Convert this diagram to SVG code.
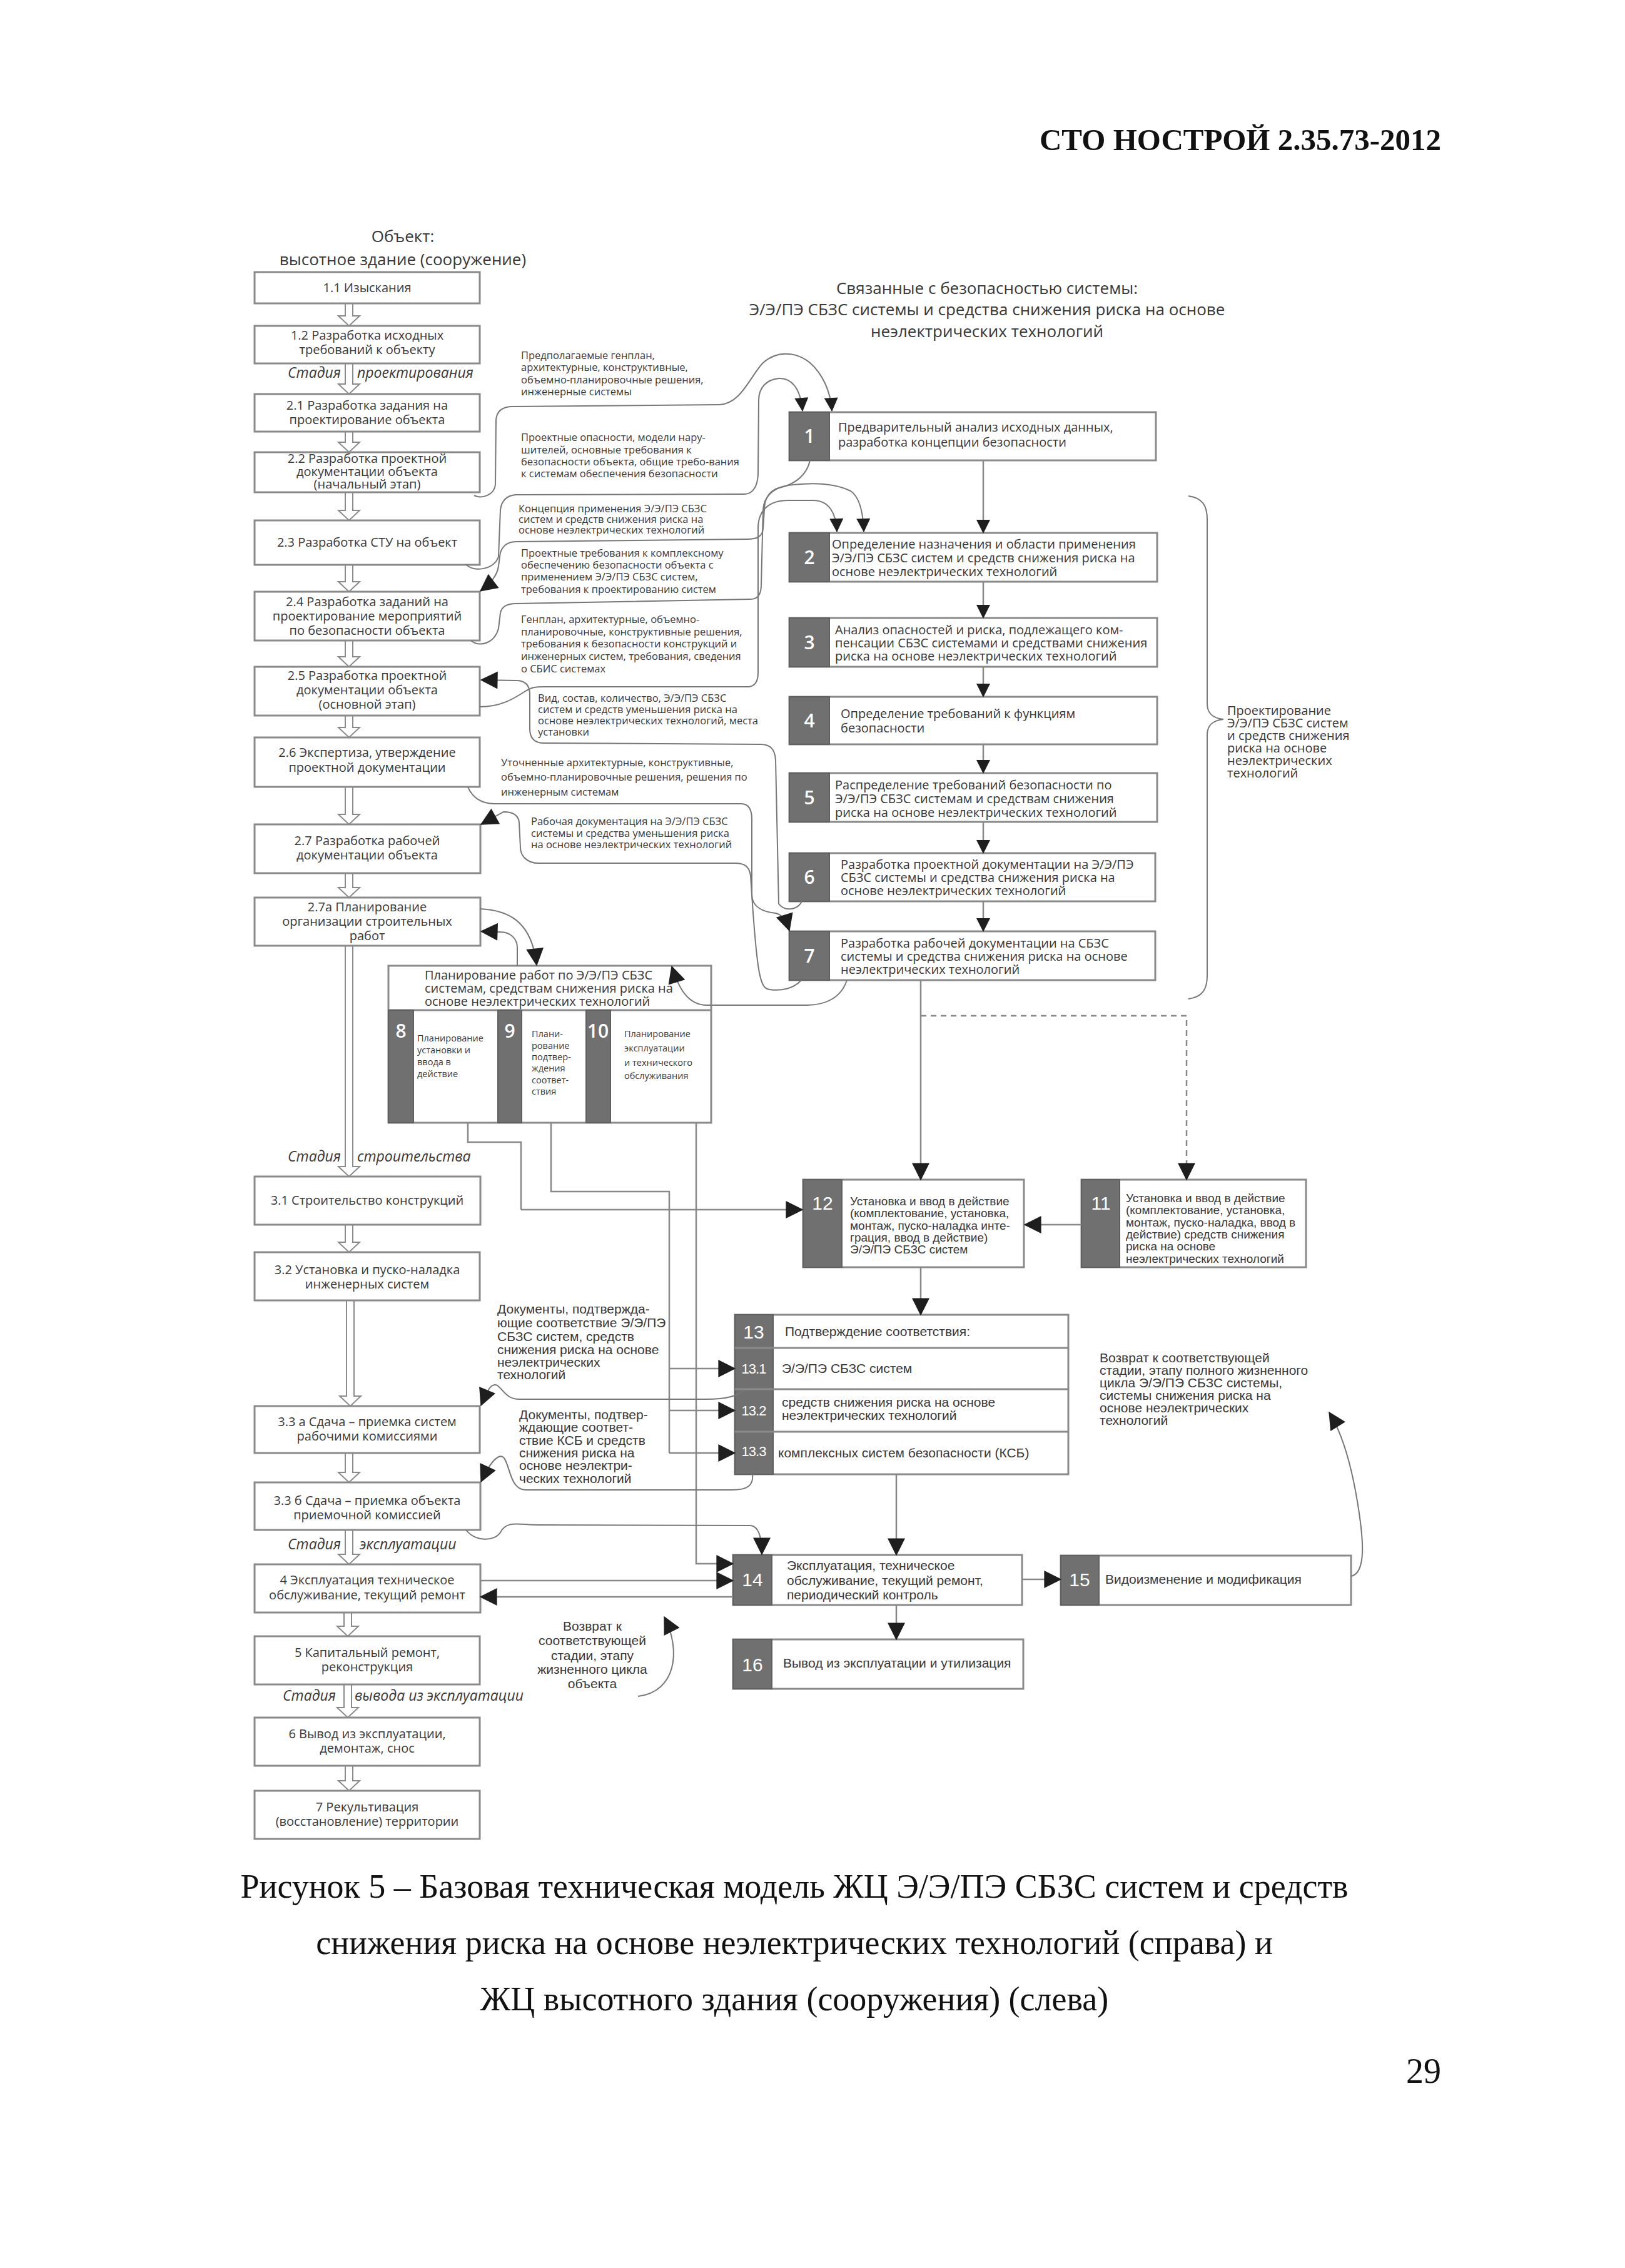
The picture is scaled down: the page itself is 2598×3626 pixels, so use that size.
<svg xmlns="http://www.w3.org/2000/svg" width="2598" height="3626" viewBox="0 0 2598 3626">
<defs>
<style>
.bx{fill:#fff;stroke:#8a8a8a;stroke-width:3}
.dk{fill:#707070;stroke:#606060;stroke-width:2}
.ba{fill:#fff;stroke:#8a8a8a;stroke-width:2}
.ln{fill:none;stroke:#888;stroke-width:2.5}
.lnd{fill:none;stroke:#888;stroke-width:2.5;stroke-dasharray:9 7}
.cv{fill:none;stroke:#777;stroke-width:2}
.lt{font-family:"Open Sans",sans-serif;font-size:20px;fill:#383838;text-anchor:middle}
.hd{font-family:"Open Sans",sans-serif;font-size:26px;fill:#383838;text-anchor:middle}
.st{font-family:"Open Sans",sans-serif;font-size:23px;font-style:italic;fill:#383838}
.rt{font-family:"Open Sans",sans-serif;font-size:20px;fill:#383838}
.num{font-family:"Open Sans",sans-serif;font-size:30px;font-weight:600;fill:#fff;text-anchor:middle}
.an{font-family:"Open Sans",sans-serif;font-size:16.5px;fill:#383838}
.pt{font-family:"Open Sans",sans-serif;font-size:14.5px;fill:#383838}
.cb{font-family:"Liberation Sans",sans-serif;font-size:19px;fill:#383838}
.cb2{font-family:"Liberation Sans",sans-serif;font-size:21px;fill:#383838}
.cn{font-family:"Liberation Sans",sans-serif;font-size:30px;fill:#fff;text-anchor:middle}
.cns{font-family:"Liberation Sans",sans-serif;font-size:22px;fill:#fff;text-anchor:middle;letter-spacing:-1px}
.tm{font-family:"Liberation Serif","Times New Roman",serif;fill:#111}
</style>
<marker id="ah" viewBox="0 0 10 10" refX="9.5" refY="5" markerWidth="26" markerHeight="22" markerUnits="userSpaceOnUse" orient="auto"><path d="M0,0 L10,5 L0,10 z" fill="#1e1e1e"/></marker>
<marker id="ahL" viewBox="0 0 10 10" refX="9.5" refY="5" markerWidth="34" markerHeight="28" markerUnits="userSpaceOnUse" orient="auto"><path d="M0,0 L10,5 L0,10 z" fill="#1e1e1e"/></marker>
</defs>
<rect width="2598" height="3626" fill="#fff"/>

<!-- page header and caption -->
<text class="tm" x="2304" y="240" font-size="49" font-weight="bold" text-anchor="end">СТО НОСТРОЙ 2.35.73-2012</text>
<g class="tm" font-size="54" text-anchor="middle">
<text x="1270" y="3034">Рисунок 5 – Базовая техническая модель ЖЦ Э/Э/ПЭ СБЗС систем и средств</text>
<text x="1270" y="3124">снижения риска на основе неэлектрических технологий (справа) и</text>
<text x="1270" y="3214">ЖЦ высотного здания (сооружения) (слева)</text>
</g>
<text class="tm" x="2304" y="3330" font-size="56" text-anchor="end">29</text>

<!-- titles -->
<text class="hd" x="644" y="387">Объект:</text>
<text class="hd" x="644" y="424">высотное здание (сооружение)</text>
<text class="hd" x="1578" y="470">Связанные с безопасностью системы:</text>
<text class="hd" x="1578" y="504">Э/Э/ПЭ СБЗС системы и средства снижения риска на основе</text>
<text class="hd" x="1578" y="539">неэлектрических технологий</text>

<!-- hollow block arrows of left column -->
<g id="block-arrows" class="ba">
<polygon points="552,485 564,485 564,505 575,505 558,521 541,505 552,505"/>
<polygon points="552,581 564,581 564,614 575,614 558,630 541,614 552,614"/>
<polygon points="552,690 564,690 564,707 575,707 558,723 541,707 552,707"/>
<polygon points="552,787 564,787 564,816 575,816 558,832 541,816 552,816"/>
<polygon points="552,903 564,903 564,930 575,930 558,946 541,930 552,930"/>
<polygon points="552,1024 564,1024 564,1050 575,1050 558,1066 541,1050 552,1050"/>
<polygon points="552,1144 564,1144 564,1163 575,1163 558,1179 541,1163 552,1163"/>
<polygon points="552,1258 564,1258 564,1302 575,1302 558,1318 541,1302 552,1302"/>
<polygon points="552,1396 564,1396 564,1419 575,1419 558,1435 541,1419 552,1419"/>
<polygon points="552,1512 564,1512 564,1865 575,1865 558,1881 541,1865 552,1865"/>
<polygon points="552,1958 564,1958 564,1986 575,1986 558,2002 541,1986 552,1986"/>
<polygon points="554,2079 566,2079 566,2232 577,2232 560,2248 543,2232 554,2232"/>
<polygon points="552,2323 564,2323 564,2354 575,2354 558,2370 541,2354 552,2354"/>
<polygon points="552,2446 564,2446 564,2485 575,2485 558,2501 541,2485 552,2485"/>
<polygon points="550,2578 562,2578 562,2600 573,2600 556,2616 539,2600 550,2600"/>
<polygon points="550,2693 562,2693 562,2730 573,2730 556,2746 539,2730 550,2730"/>
<polygon points="552,2823 564,2823 564,2847 575,2847 558,2863 541,2847 552,2847"/>
</g>

<!-- stage labels -->
<g id="stages" class="st">
<text x="545" y="604" text-anchor="end">Стадия</text><text x="571" y="604">проектирования</text>
<text x="545" y="1857" text-anchor="end">Стадия</text><text x="571" y="1857">строительства</text>
<text x="545" y="2477" text-anchor="end">Стадия</text><text x="575" y="2477">эксплуатации</text>
<text x="537" y="2719" text-anchor="end">Стадия</text><text x="567" y="2719">вывода из эксплуатации</text>
</g>

<!-- left column nodes -->
<g id="n1-1"><rect class="bx" x="407" y="435" width="360" height="50"/><text class="lt" x="587" y="467">1.1 Изыскания</text></g>
<g id="n1-2"><rect class="bx" x="407" y="521" width="360" height="60"/><text class="lt" x="587" y="543">1.2 Разработка исходных</text><text class="lt" x="587" y="566">требований к объекту</text></g>
<g id="n2-1"><rect class="bx" x="407" y="630" width="360" height="60"/><text class="lt" x="587" y="655">2.1 Разработка задания на</text><text class="lt" x="587" y="678">проектирование объекта</text></g>
<g id="n2-2"><rect class="bx" x="407" y="723" width="360" height="64"/><text class="lt" x="587" y="740" font-size="18">2.2 Разработка проектной</text><text class="lt" x="587" y="760.5" font-size="18">документации объекта</text><text class="lt" x="587" y="781" font-size="18">(начальный этап)</text></g>
<g id="n2-3"><rect class="bx" x="407" y="832" width="360" height="71"/><text class="lt" x="587" y="874">2.3 Разработка СТУ на объект</text></g>
<g id="n2-4"><rect class="bx" x="407" y="946" width="360" height="78"/><text class="lt" x="587" y="969">2.4 Разработка заданий на</text><text class="lt" x="587" y="992">проектирование мероприятий</text><text class="lt" x="587" y="1015">по безопасности объекта</text></g>
<g id="n2-5"><rect class="bx" x="407" y="1066" width="360" height="78"/><text class="lt" x="587" y="1087">2.5 Разработка проектной</text><text class="lt" x="587" y="1110">документации объекта</text><text class="lt" x="587" y="1133">(основной этап)</text></g>
<g id="n2-6"><rect class="bx" x="407" y="1179" width="360" height="79"/><text class="lt" x="587" y="1210">2.6 Экспертиза, утверждение</text><text class="lt" x="587" y="1234">проектной документации</text></g>
<g id="n2-7"><rect class="bx" x="407" y="1318" width="361" height="78"/><text class="lt" x="587" y="1351">2.7 Разработка рабочей</text><text class="lt" x="587" y="1374">документации объекта</text></g>
<g id="n2-7a"><rect class="bx" x="407" y="1435" width="361" height="77"/><text class="lt" x="587" y="1457">2.7а Планирование</text><text class="lt" x="587" y="1480">организации строительных</text><text class="lt" x="587" y="1503">работ</text></g>
<g id="n3-1"><rect class="bx" x="407" y="1881" width="361" height="77"/><text class="lt" x="587" y="1926">3.1 Строительство конструкций</text></g>
<g id="n3-2"><rect class="bx" x="407" y="2002" width="360" height="77"/><text class="lt" x="587" y="2037">3.2 Установка и пуско-наладка</text><text class="lt" x="587" y="2060">инженерных систем</text></g>
<g id="n3-3a"><rect class="bx" x="407" y="2248" width="360" height="75"/><text class="lt" x="587" y="2280">3.3 а Сдача – приемка  систем</text><text class="lt" x="587" y="2303">рабочими комиссиями</text></g>
<g id="n3-3b"><rect class="bx" x="407" y="2370" width="361" height="76"/><text class="lt" x="587" y="2406">3.3 б Сдача – приемка объекта</text><text class="lt" x="587" y="2429">приемочной комиссией</text></g>
<g id="n4"><rect class="bx" x="407" y="2501" width="361" height="77"/><text class="lt" x="587" y="2533">4 Эксплуатация техническое</text><text class="lt" x="587" y="2557">обслуживание, текущий ремонт</text></g>
<g id="n5"><rect class="bx" x="407" y="2616" width="360" height="77"/><text class="lt" x="587" y="2649">5 Капитальный ремонт,</text><text class="lt" x="587" y="2672">реконструкция</text></g>
<g id="n6"><rect class="bx" x="407" y="2746" width="360" height="77"/><text class="lt" x="587" y="2779">6 Вывод из эксплуатации,</text><text class="lt" x="587" y="2802">демонтаж, снос</text></g>
<g id="n7"><rect class="bx" x="407" y="2863" width="360" height="77"/><text class="lt" x="587" y="2896">7 Рекультивация</text><text class="lt" x="587" y="2919">(восстановление) территории</text></g>

<!-- right column nodes -->
<g id="r1"><rect class="bx" x="1262" y="659" width="586" height="77"/><rect class="dk" x="1262" y="659" width="64" height="77"/><text class="num" x="1294" y="708">1</text><text class="rt" x="1340" y="690">Предварительный анализ исходных данных,</text><text class="rt" x="1340" y="714">разработка концепции безопасности</text></g>
<g id="r2"><rect class="bx" x="1262" y="852" width="588" height="78"/><rect class="dk" x="1262" y="852" width="64" height="78"/><text class="num" x="1294" y="902">2</text><text class="rt" x="1330" y="877">Определение назначения и области применения</text><text class="rt" x="1330" y="899">Э/Э/ПЭ СБЗС систем и средств снижения риска на</text><text class="rt" x="1330" y="921">основе неэлектрических технологий</text></g>
<g id="r3"><rect class="bx" x="1262" y="988" width="588" height="78"/><rect class="dk" x="1262" y="988" width="64" height="78"/><text class="num" x="1294" y="1038">3</text><text class="rt" x="1335" y="1014">Анализ опасностей и риска, подлежащего ком-</text><text class="rt" x="1335" y="1035">пенсации СБЗС системами и средствами снижения</text><text class="rt" x="1335" y="1056">риска на основе неэлектрических технологий</text></g>
<g id="r4"><rect class="bx" x="1262" y="1114" width="588" height="76"/><rect class="dk" x="1262" y="1114" width="64" height="76"/><text class="num" x="1294" y="1163">4</text><text class="rt" x="1344" y="1148">Определение требований к функциям</text><text class="rt" x="1344" y="1171">безопасности</text></g>
<g id="r5"><rect class="bx" x="1262" y="1236" width="588" height="78"/><rect class="dk" x="1262" y="1236" width="64" height="78"/><text class="num" x="1294" y="1286">5</text><text class="rt" x="1335" y="1262">Распределение требований безопасности по</text><text class="rt" x="1335" y="1284">Э/Э/ПЭ СБЗС  системам и  средствам снижения</text><text class="rt" x="1335" y="1306">риска на основе неэлектрических технологий</text></g>
<g id="r6"><rect class="bx" x="1262" y="1364" width="585" height="77"/><rect class="dk" x="1262" y="1364" width="64" height="77"/><text class="num" x="1294" y="1413">6</text><text class="rt" x="1344" y="1389">Разработка проектной документации на Э/Э/ПЭ</text><text class="rt" x="1344" y="1410">СБЗС системы и средства снижения риска на</text><text class="rt" x="1344" y="1431">основе неэлектрических технологий</text></g>
<g id="r7"><rect class="bx" x="1262" y="1489" width="585" height="78"/><rect class="dk" x="1262" y="1489" width="64" height="78"/><text class="num" x="1294" y="1539">7</text><text class="rt" x="1344" y="1515">Разработка рабочей документации на СБЗС</text><text class="rt" x="1344" y="1536">системы и средства снижения риска на основе</text><text class="rt" x="1344" y="1557">неэлектрических технологий</text></g>

<!-- bracket -->
<g id="bracket">
<path class="cv" d="M1900,793 C1922,796 1930,808 1930,830 L1930,1125 C1930,1140 1938,1148 1956,1150 C1938,1152 1930,1160 1930,1175 L1930,1560 C1930,1582 1922,1594 1900,1597"/>
<g class="rt" font-size="19px"><text x="1962" y="1143">Проектирование</text><text x="1962" y="1163">Э/Э/ПЭ СБЗС систем</text><text x="1962" y="1183">и средств снижения</text><text x="1962" y="1203">риска на основе</text><text x="1962" y="1223">неэлектрических</text><text x="1962" y="1243">технологий</text></g>
</g>

<!-- planning block 8-10 -->
<g id="plan">
<rect class="bx" x="621" y="1544" width="516" height="251"/>
<line x1="621" y1="1615" x2="1137" y2="1615" stroke="#8a8a8a" stroke-width="3"/>
<text class="rt" x="679" y="1566" font-size="19.5px">Планирование работ по Э/Э/ПЭ СБЗС</text>
<text class="rt" x="679" y="1587" font-size="19.5px">системам, средствам снижения риска на</text>
<text class="rt" x="679" y="1608" font-size="19.5px">основе неэлектрических технологий</text>
<g id="n8"><rect class="dk" x="621" y="1615" width="40" height="180"/><text class="num" x="641" y="1659" font-size="27px">8</text><text class="pt" x="667" y="1665">Планирование</text><text class="pt" x="667" y="1684">установки и</text><text class="pt" x="667" y="1703">ввода в</text><text class="pt" x="667" y="1722">действие</text></g>
<line x1="796" y1="1615" x2="796" y2="1795" stroke="#8a8a8a" stroke-width="2"/>
<g id="n9"><rect class="dk" x="796" y="1615" width="38" height="180"/><text class="num" x="815" y="1659" font-size="27px">9</text><text class="pt" x="850" y="1658">Плани-</text><text class="pt" x="850" y="1677">рование</text><text class="pt" x="850" y="1695">подтвер-</text><text class="pt" x="850" y="1713">ждения</text><text class="pt" x="850" y="1732">соответ-</text><text class="pt" x="850" y="1750">ствия</text></g>
<g id="n10"><rect class="dk" x="937" y="1615" width="39" height="180"/><text class="num" x="956" y="1659" font-size="27px">10</text><text class="pt" x="998" y="1658">Планирование</text><text class="pt" x="998" y="1681">эксплуатации</text><text class="pt" x="998" y="1704">и технического</text><text class="pt" x="998" y="1725">обслуживания</text></g>
</g>

<!-- lower right nodes -->
<g id="r12"><rect class="bx" x="1284" y="1886" width="353" height="140"/><rect class="dk" x="1284" y="1886" width="62" height="140"/><text class="cn" x="1315" y="1934">12</text><g class="cb"><text x="1359" y="1927">Установка и ввод в действие</text><text x="1359" y="1946">(комплектование,  установка,</text><text x="1359" y="1966">монтаж, пуско-наладка инте-</text><text x="1359" y="1985">грация, ввод в действие)</text><text x="1359" y="2004">Э/Э/ПЭ СБЗС систем</text></g></g>
<g id="r11"><rect class="bx" x="1729" y="1886" width="359" height="140"/><rect class="dk" x="1729" y="1886" width="61" height="140"/><text class="cn" x="1760" y="1934">11</text><g class="cb"><text x="1800" y="1922">Установка и ввод в действие</text><text x="1800" y="1941">(комплектование, установка,</text><text x="1800" y="1961">монтаж, пуско-наладка, ввод в</text><text x="1800" y="1980">действие) средств снижения</text><text x="1800" y="1999">риска на основе</text><text x="1800" y="2019">неэлектрических технологий</text></g></g>
<g id="r13"><rect class="bx" x="1175" y="2102" width="533" height="255"/><rect class="dk" x="1175" y="2102" width="61" height="255"/>
<line x1="1175" y1="2155" x2="1708" y2="2155" stroke="#8a8a8a" stroke-width="3"/><line x1="1175" y1="2221" x2="1708" y2="2221" stroke="#8a8a8a" stroke-width="3"/><line x1="1175" y1="2289" x2="1708" y2="2289" stroke="#8a8a8a" stroke-width="3"/>
<text class="cn" x="1205" y="2140">13</text><text class="cns" x="1205" y="2196">13.1</text><text class="cns" x="1205" y="2263">13.2</text><text class="cns" x="1205" y="2328">13.3</text>
<g class="cb2"><text x="1255" y="2136">Подтверждение соответствия:</text><text x="1250" y="2195">Э/Э/ПЭ СБЗС систем</text><text x="1250" y="2249">средств снижения риска на основе</text><text x="1250" y="2270">неэлектрических технологий</text><text x="1244" y="2330">комплексных систем безопасности (КСБ)</text></g></g>
<g id="r14"><rect class="bx" x="1172" y="2486" width="462" height="80"/><rect class="dk" x="1172" y="2486" width="62" height="80"/><text class="cn" x="1203" y="2536">14</text><g class="cb2"><text x="1258" y="2510">Эксплуатация, техническое</text><text x="1258" y="2534">обслуживание, текущий ремонт,</text><text x="1258" y="2557">периодический контроль</text></g></g>
<g id="r15"><rect class="bx" x="1696" y="2487" width="464" height="79"/><rect class="dk" x="1696" y="2487" width="61" height="79"/><text class="cn" x="1726" y="2536">15</text><text class="cb2" x="1767" y="2532">Видоизменение и модификация</text></g>
<g id="r16"><rect class="bx" x="1172" y="2621" width="464" height="79"/><rect class="dk" x="1172" y="2621" width="62" height="79"/><text class="cn" x="1203" y="2672">16</text><text class="cb2" x="1252" y="2666">Вывод из эксплуатации и утилизация</text></g>

<!-- annotations -->
<g id="annotations" class="an">
<text x="833" y="574">Предполагаемые генплан,</text><text x="833" y="593">архитектурные, конструктивные,</text><text x="833" y="613">объемно-планировочные решения,</text><text x="833" y="632">инженерные системы</text>
<text x="833" y="705">Проектные опасности, модели нару-</text><text x="833" y="725">шителей, основные требования к</text><text x="833" y="744">безопасности объекта, общие требо-вания</text><text x="833" y="763">к системам обеспечения безопасности</text>
<text x="829" y="819">Концепция применения Э/Э/ПЭ СБЗС</text><text x="829" y="836">систем и средств снижения риска на</text><text x="829" y="853">основе неэлектрических технологий</text>
<text x="833" y="890">Проектные требования к комплексному</text><text x="833" y="909">обеспечению безопасности объекта с</text><text x="833" y="928">применением Э/Э/ПЭ СБЗС систем,</text><text x="833" y="948">требования к проектированию систем</text>
<text x="833" y="996">Генплан, архитектурные, объемно-</text><text x="833" y="1016">планировочные, конструктивные решения,</text><text x="833" y="1035">требования к безопасности конструкций и</text><text x="833" y="1055">инженерных систем, требования, сведения</text><text x="833" y="1075">о СБИС системах</text>
<text x="860" y="1122">Вид, состав, количество, Э/Э/ПЭ СБЗС</text><text x="860" y="1140">систем и средств уменьшения риска на</text><text x="860" y="1158">основе неэлектрических технологий, места</text><text x="860" y="1176">установки</text>
<text x="801" y="1225">Уточненные архитектурные, конструктивные,</text><text x="801" y="1248">объемно-планировочные решения, решения по</text><text x="801" y="1272">инженерным системам</text>
<text x="849" y="1319">Рабочая документация на Э/Э/ПЭ СБЗС</text><text x="849" y="1338">системы и средства уменьшения риска</text><text x="849" y="1356">на основе неэлектрических технологий</text>
</g>
<g id="annotations2" class="cb2">
<text x="795" y="2100">Документы, подтвержда-</text><text x="795" y="2122">ющие соответствие Э/Э/ПЭ</text><text x="795" y="2144">СБЗС систем, средств</text><text x="795" y="2165">снижения риска на основе</text><text x="795" y="2185">неэлектрических</text><text x="795" y="2205">технологий</text>
<text x="830" y="2269">Документы, подтвер-</text><text x="830" y="2289">ждающие соответ-</text><text x="830" y="2310">ствие КСБ и средств</text><text x="830" y="2330">снижения риска на</text><text x="830" y="2350">основе неэлектри-</text><text x="830" y="2371">ческих технологий</text>
<g text-anchor="middle"><text x="947" y="2607">Возврат к</text><text x="947" y="2630">соответствующей</text><text x="947" y="2654">стадии,  этапу</text><text x="947" y="2676">жизненного цикла</text><text x="947" y="2699">объекта</text></g>
<text x="1758" y="2178">Возврат к соответствующей</text><text x="1758" y="2198">стадии, этапу полного жизненного</text><text x="1758" y="2218">цикла Э/Э/ПЭ СБЗС системы,</text><text x="1758" y="2238">системы снижения риска на</text><text x="1758" y="2258">основе неэлектрических</text><text x="1758" y="2278">технологий</text>
</g>

<!-- connectors -->
<g id="connectors">
<path class="ln" marker-end="url(#ah)" d="M1572,736 V852"/>
<path class="ln" marker-end="url(#ah)" d="M1572,930 V988"/>
<path class="ln" marker-end="url(#ah)" d="M1572,1066 V1114"/>
<path class="ln" marker-end="url(#ah)" d="M1572,1190 V1236"/>
<path class="ln" marker-end="url(#ah)" d="M1572,1314 V1364"/>
<path class="ln" marker-end="url(#ah)" d="M1572,1441 V1489"/>

<path class="cv" marker-end="url(#ah)" d="M758,792 C770,798 790,792 792,775 L793,672 C794,655 805,650 820,650 L1150,647 C1185,646 1200,600 1220,580 C1240,562 1270,560 1295,580 C1315,598 1328,625 1330,657"/>
<path class="cv" marker-end="url(#ah)" d="M745,902 C755,915 790,912 797,890 L800,815 C802,800 810,792 825,791 L1190,790 C1205,790 1212,775 1212,755 L1213,640 C1213,620 1225,607 1245,605 C1265,604 1280,620 1283,657"/>
<path class="cv" marker-end="url(#ahL)" d="M1295,736 C1290,760 1270,775 1245,780 C1228,785 1222,800 1222,815 L1220,845 C1219,858 1210,862 1195,862 L825,866 C810,866 800,875 799,890 L797,905 C795,920 785,932 768,945"/>
<path class="cv" marker-end="url(#ah)" d="M753,1024 C765,1035 790,1030 797,1005 L800,980 C802,970 810,965 825,965 L1200,958 C1212,958 1217,950 1217,935 L1220,815 C1221,795 1235,780 1260,776 C1290,772 1330,770 1360,785 C1375,795 1380,820 1381,850"/>
<path class="cv" marker-end="url(#ah)" d="M767,1130 C800,1130 820,1118 840,1105 C850,1099 855,1098 870,1098 L1195,1098 C1207,1098 1212,1090 1212,1075 L1212,845 C1212,815 1230,800 1260,800 L1300,800 C1325,800 1337,820 1338,850"/>
<path class="cv" marker-end="url(#ahL)" d="M1282,1441 C1275,1455 1255,1458 1245,1445 L1240,1215 C1239,1198 1232,1190 1215,1190 L870,1188 C855,1188 847,1180 847,1165 L847,1110 C847,1095 840,1088 825,1088 L769,1087"/>
<path class="cv" marker-end="url(#ahL)" d="M748,1258 C755,1275 770,1285 790,1285 L1185,1285 C1198,1285 1202,1295 1202,1310 L1202,1430 C1202,1450 1220,1458 1240,1460 C1252,1462 1258,1475 1262,1488"/>
<path class="cv" marker-end="url(#ahL)" d="M1281,1567 C1270,1580 1250,1585 1230,1582 C1215,1580 1210,1560 1200,1400 C1198,1385 1190,1380 1175,1380 L860,1380 C845,1380 832,1370 832,1355 L830,1315 C829,1303 820,1298 805,1298 L769,1318"/>
<path class="cv" marker-end="url(#ahL)" d="M767,1453 C810,1455 850,1470 858,1543"/>
<path class="cv" marker-end="url(#ahL)" d="M827,1544 L827,1515 C827,1500 815,1490 800,1490 L769,1489"/>
<path class="cv" marker-end="url(#ahL)" d="M1354,1567 C1345,1595 1320,1607 1290,1607 L1130,1607 C1100,1607 1085,1580 1074,1545"/>

<path class="ln" d="M748,1795 V1826 H833 V1934"/>
<path class="ln" marker-end="url(#ahL)" d="M833,1934 H1283"/>
<path class="ln" d="M881,1795 V1905 H1070 V2323"/>
<path class="ln" marker-end="url(#ahL)" d="M1070,2188 H1175"/>
<path class="ln" marker-end="url(#ahL)" d="M1070,2255 H1175"/>
<path class="ln" marker-end="url(#ahL)" d="M1070,2323 H1175"/>
<path class="ln" marker-end="url(#ahL)" d="M1113,1795 V2500 H1172"/>
<path class="ln" marker-end="url(#ahL)" d="M1472,1567 V1886"/>
<path class="lnd" marker-end="url(#ahL)" d="M1472,1624 H1897 V1886"/>
<path class="ln" marker-end="url(#ahL)" d="M1729,1958 H1638"/>
<path class="ln" marker-end="url(#ahL)" d="M1472,2026 V2102"/>
<path class="ln" marker-end="url(#ahL)" d="M1433,2357 V2486"/>
<path class="ln" marker-end="url(#ahL)" d="M1433,2566 V2621"/>
<path class="ln" marker-end="url(#ahL)" d="M1634,2525 H1696"/>
<path class="ln" marker-end="url(#ahL)" d="M767,2527 H1172"/>
<path class="ln" marker-end="url(#ahL)" d="M1172,2553 H768"/>
<path class="cv" marker-end="url(#ahL)" d="M745,2446 C760,2465 790,2465 800,2450 C810,2430 830,2438 860,2438 L1200,2439 C1212,2440 1218,2455 1218,2485"/>
<path class="cv" marker-end="url(#ahL)" d="M2160,2520 C2185,2515 2180,2460 2170,2400 C2160,2340 2145,2290 2125,2258"/>
<path class="cv" marker-end="url(#ahL)" d="M1020,2712 C1080,2705 1090,2640 1062,2585"/>
<path class="cv" marker-end="url(#ahL)" d="M1190,2222 C1180,2232 1160,2237 1130,2237 L830,2237 C810,2237 805,2222 795,2215 C785,2210 778,2225 769,2247"/>
<path class="cv" marker-end="url(#ahL)" d="M1203,2357 C1205,2375 1195,2382 1170,2382 L840,2382 C815,2382 815,2340 805,2330 C795,2322 780,2345 769,2369"/>
</g>
</svg>
